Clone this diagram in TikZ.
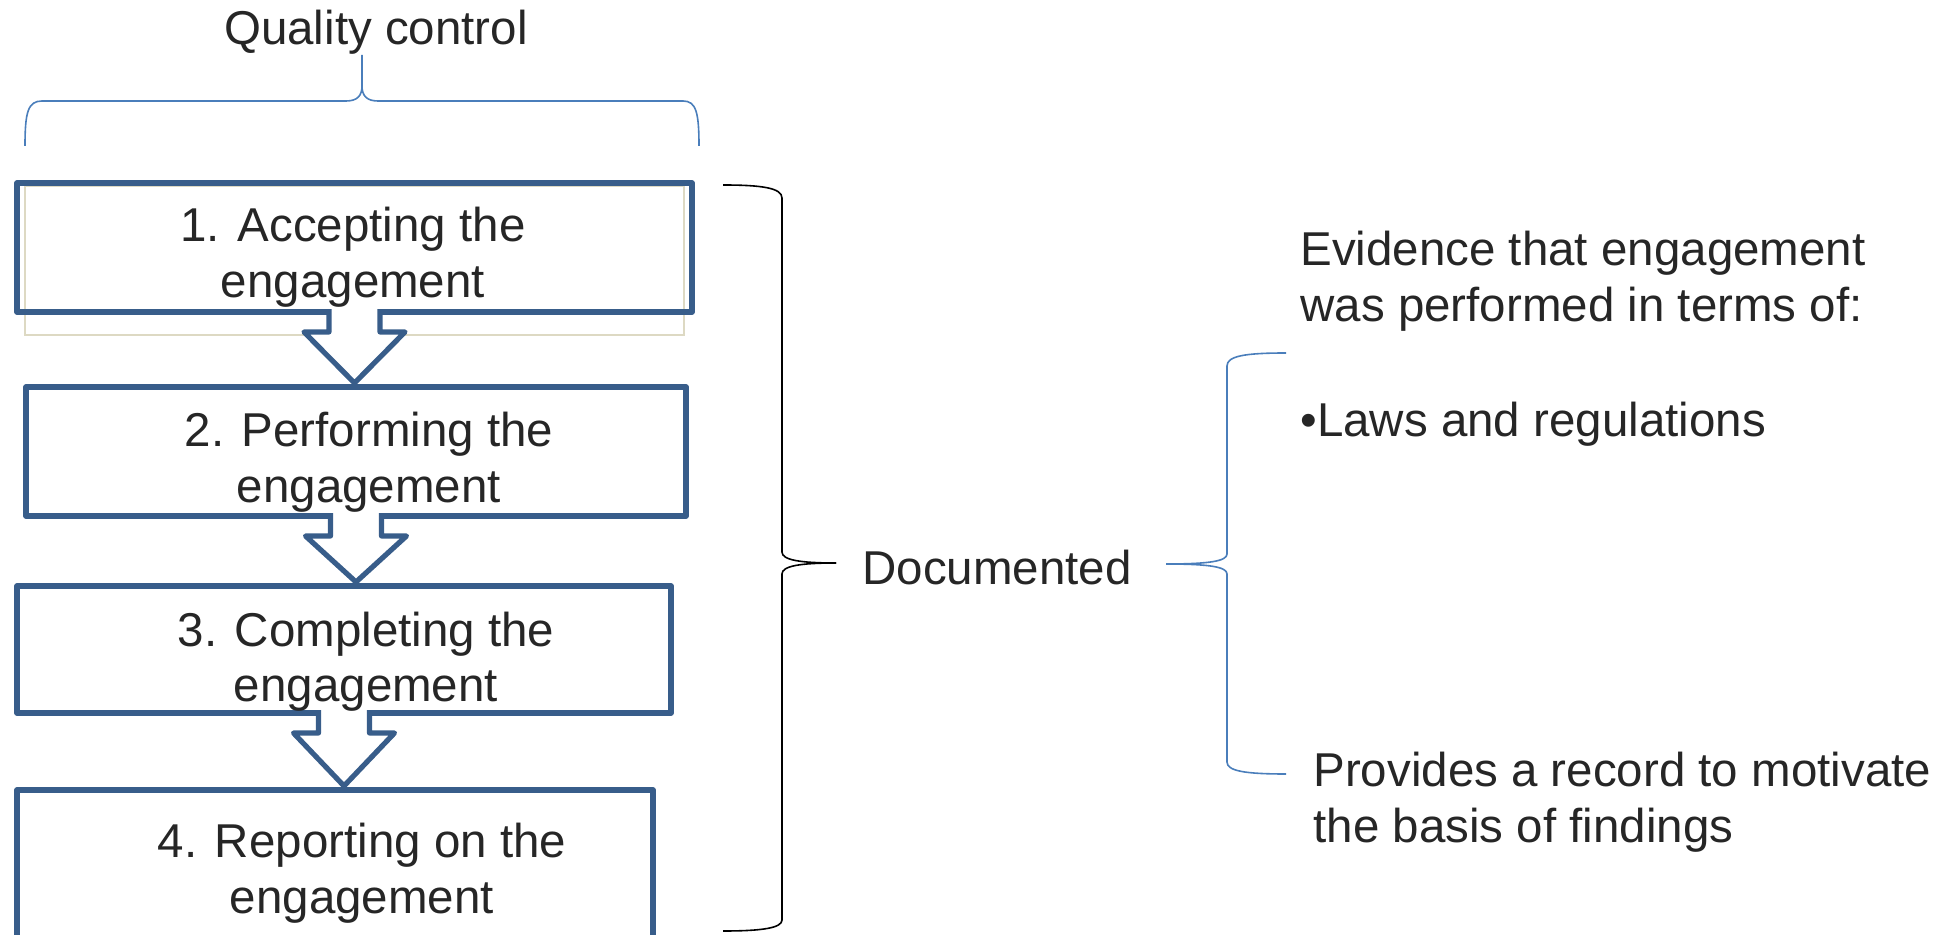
\documentclass[tikz,border=0pt]{standalone}
\usepackage{fontspec}
\setmainfont{Liberation Sans}
\usetikzlibrary{calc}
\definecolor{boxblue}{RGB}{56,93,138}
\definecolor{braceblue}{RGB}{74,126,187}
\definecolor{beigeline}{RGB}{221,217,195}
\definecolor{txt}{RGB}{38,38,38}
\newcommand{\flowarrow}[2]{%
  \draw[flow] let \p1=(#1.south), \p2=(#2.north) in
    (\x1-12.75pt,\y1+1.4pt) -- (\x1-12.75pt,\y1-10pt) -- (\x1-25.25pt,\y1-10pt)
    -- (\x1,\y2+2pt) -- (\x1+25.25pt,\y1-10pt) -- (\x1+12.75pt,\y1-10pt)
    -- (\x1+12.75pt,\y1+1.4pt);}
\begin{document}
\begin{tikzpicture}[x=0.5pt,y=-0.5pt,
  box/.style={draw=boxblue, line width=2.6pt, line join=round, outer sep=0pt, inner sep=0pt},
  flow/.style={draw=boxblue, line width=2.6pt, line join=round, fill=white},
  lbl/.style={text=txt, font=\fontsize{23.75pt}{28pt}\selectfont, inner sep=0pt},
  bluebrace/.style={draw=braceblue, line width=0.8pt},
  blackbrace/.style={draw=black, line width=0.8pt}]
\useasboundingbox (0,0) rectangle (1951,935);
% ghost rectangle behind box 1
\draw[draw=beigeline, line width=0.8pt] (25,186) rectangle (684,335);
% boxes
\node[box, minimum width=337.5pt, minimum height=64.5pt] (b1) at (354.5,247.5) {};
\node[box, minimum width=330pt, minimum height=64.5pt] (b2) at (356,451.5) {};
\node[box, minimum width=327pt, minimum height=63.5pt] (b3) at (344,649.5) {};
\node[box, minimum width=318pt, minimum height=105pt] (b4) at (335,895) {};
% block arrows
\flowarrow{b1}{b2}
\flowarrow{b2}{b3}
\flowarrow{b3}{b4}
% labels (base anchor = baseline of the last line)
\node[lbl, anchor=base] (qc) at (376,45) {Quality control};
\node[lbl, anchor=base, align=center] (t1) at (353,298) {1. Accepting the\\engagement};
\node[lbl, anchor=base, align=center] (t2) at (369,503) {2. Performing the\\engagement};
\node[lbl, anchor=base, align=center] (t3) at (366,702) {3. Completing the\\engagement};
\node[lbl, anchor=base, align=center] (t4) at (362,913) {4. Reporting on the\\engagement};
\node[lbl, anchor=base west] (doc) at (862,585) {Documented};
\node[lbl, anchor=base west, align=left] (ev) at (1300,322) {Evidence that engagement\\was performed in terms of:};
\node[lbl, anchor=base west] (laws) at (1300,437) {•Laws and regulations};
\node[lbl, anchor=base west, align=left] (prov) at (1313,842) {Provides a record to motivate\\the basis of findings};
% top brace (quality control)
\draw[bluebrace] (25,146) .. controls (25,112) and (28,101) .. (42,101) -- (346,101)
  .. controls (357,101) and (362,96) .. (362,86) -- (362,55);
\draw[bluebrace] (362,86) .. controls (362,96) and (367,101) .. (378,101) -- (683,101)
  .. controls (696,101) and (699,112) .. (699,146);
% black brace (documented)
\draw[blackbrace] (723,185) .. controls (762,185) and (782,188) .. (782,198) -- (782,552)
  .. controls (782,560) and (800,563) .. (836,563);
\draw[blackbrace] (836,563) .. controls (800,563) and (782,566) .. (782,574) -- (782,920)
  .. controls (782,928) and (762,931) .. (723,931);
% blue brace (evidence)
\draw[bluebrace] (1286,353) .. controls (1245,353) and (1227,356) .. (1227,366) -- (1227,554)
  .. controls (1227,561) and (1210,564) .. (1166,564);
\draw[bluebrace] (1166,564) .. controls (1210,564) and (1227,567) .. (1227,574) -- (1227,762)
  .. controls (1227,771) and (1245,774) .. (1286,774);
\end{tikzpicture}
\end{document}
